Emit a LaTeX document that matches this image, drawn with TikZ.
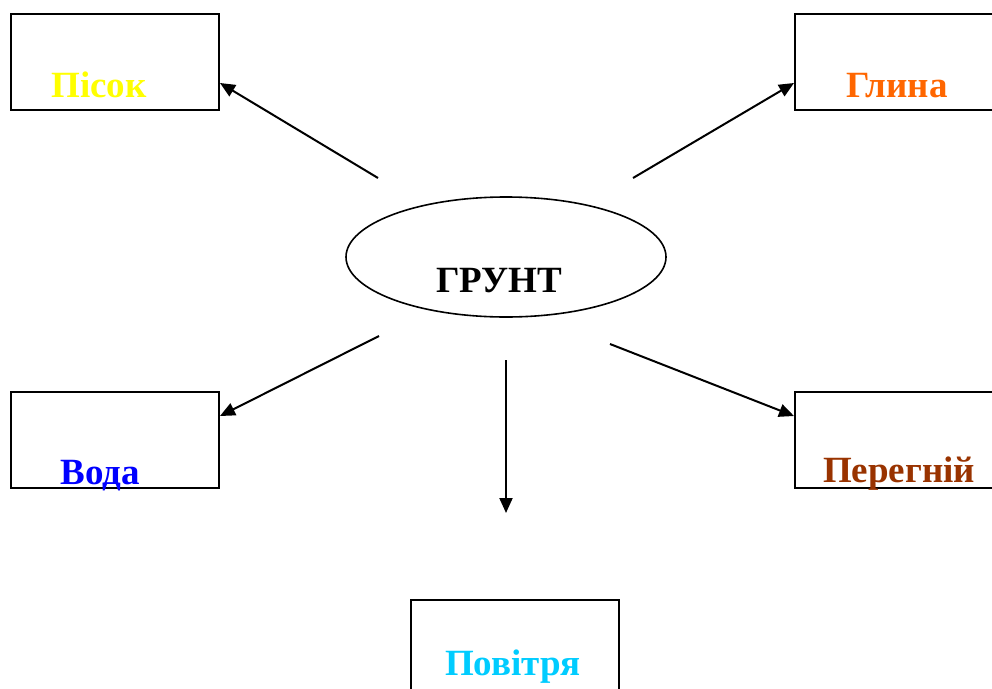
\documentclass[tikz,border=0pt]{standalone}
\usepackage{fontspec}
\setmainfont{Liberation Serif}
\usetikzlibrary{arrows.meta,shapes.geometric}
\definecolor{sand}{HTML}{FFFF00}
\definecolor{clay}{HTML}{FF6600}
\definecolor{water}{HTML}{0000FF}
\definecolor{humus}{HTML}{993300}
\definecolor{air}{HTML}{00CCFF}
\begin{document}
\begin{tikzpicture}[x=1pt,y=-1pt,
  part/.style={draw=black,line width=2pt,minimum width=208pt,minimum height=96pt,inner sep=0pt,anchor=north west},
  word/.style={font=\fontsize{37}{40}\selectfont\bfseries,anchor=base,inner sep=0pt},
  link/.style={line width=2pt,-{Triangle[length=15pt,width=13pt]}}]
\useasboundingbox (0,0) rectangle (992,688);
\begin{scope}
\clip (0,0) rectangle (992,688);
% boxes for the soil components
\node[part] (sand) at (10,13) {};
\node[part] (clay) at (794,13) {};
\node[part] (water) at (10,391) {};
\node[part] (humus) at (794,391) {};
\node[part] (air) at (410,599) {};
\end{scope}
% centre ellipse
\node[draw,ellipse,line width=1.6pt,minimum width=320pt,minimum height=120pt,inner sep=0pt] (soil) at (506,257) {};
% labels
\node[word] (tsoil) at (499,292) {ГРУНТ};
\node[word,text=sand] (tsand) at (99,97) {Пісок};
\node[word,text=clay] (tclay) at (897,97) {Глина};
\node[word,text=water] (twater) at (100,484) {Вода};
\node[word,text=humus] (thumus) at (899,482) {Перегній};
\node[word,text=air] (tair) at (513,675) {Повітря};
% connector ends
\coordinate (s1) at (378,178);
\coordinate (s2) at (633,178);
\coordinate (s3) at (379,336);
\coordinate (s4) at (610,344);
\coordinate (s5) at (506,360);
\coordinate (e1) at (sand.east |- 0,83);
\coordinate (e2) at (clay.west |- 0,83);
\coordinate (e3) at (water.east |- 0,416);
\coordinate (e4) at (humus.west |- 0,416);
\coordinate (e5) at (506,513);
\draw[link] (s1) -- (e1);
\draw[link] (s2) -- (e2);
\draw[link] (s3) -- (e3);
\draw[link] (s4) -- (e4);
\draw[link] (s5) -- (e5);
\end{tikzpicture}
\end{document}
